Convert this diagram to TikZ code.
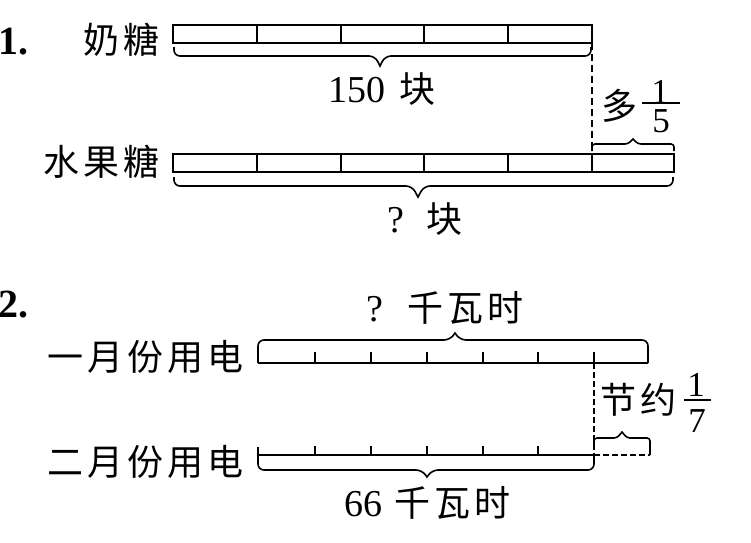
\documentclass[tikz,border=0pt]{standalone}
\usepackage{fontspec}
\setmainfont{Liberation Serif}
\newfontfamily\cjk{Noto Sans CJK SC}
\newcommand\zh{\cjk\fontsize{36}{42}\selectfont}
\newcommand\cs{\hspace{4pt}}
\begin{document}
\begin{tikzpicture}[x=1pt,y=-1pt,
  bar/.style={line width=1.8pt},
  thinbar/.style={line width=1.6pt},
  brc/.style={line width=1.6pt},
  dashline/.style={line width=1.5pt, dash pattern=on 7pt off 4pt},
  lbl/.style={inner sep=0pt, font=\zh},
  numb/.style={inner sep=0pt, font=\fontsize{38}{44}\selectfont},
  bnum/.style={inner sep=0pt, font=\fontsize{40}{46}\selectfont\bfseries},
  fracn/.style={inner sep=0pt, font=\fontsize{35}{40}\selectfont},
  fracbar/.style={line width=1.4pt}]
\useasboundingbox (0,0) rectangle (751,542);

% ---------- Diagram 1 ----------
\node[bnum, anchor=base east] (n1) at (29,54) {1.};
\node[lbl, anchor=east] (l1) at (160,40) {奶\cs 糖};
\node[lbl, anchor=east] (l2) at (160,162) {水\cs 果\cs 糖};

% top bar (5 parts)
\draw[bar] (173,25) rectangle (592,43);
\foreach \x in {257,341,424,508} \draw[bar] (\x,25) -- (\x,43);
% bottom bar (6 parts)
\draw[bar] (173,154) rectangle (674,172);
\foreach \x in {257,341,424,508,592} \draw[bar] (\x,154) -- (\x,172);

% dashed connector
\coordinate (d1a) at (592,43);
\coordinate (d1b) at (592,154);
\draw[dashline] (d1a) -- (d1b);

% braces
\draw[brc] (174,47) [rounded corners=6pt] -- (174,56) -- (375,56) [sharp corners] -- (380,66) [rounded corners=6pt] -- (385,56) -- (591,56) -- (591,47);
\draw[brc] (174,177) [rounded corners=6pt] -- (174,186) -- (412,186) [sharp corners] -- (418,197) [rounded corners=6pt] -- (424,186) -- (673,186) -- (673,177);
\draw[brc] (592,151) [rounded corners=3pt] -- (592,144) -- (628,144) [sharp corners] -- (633,139) [rounded corners=3pt] -- (638,144) -- (674,144) -- (674,151);

\node[numb, anchor=base] (t1) at (382,102) {150\hspace{14pt}{\zh 块}};
\node[numb, anchor=base] (t2) at (425,232) {?\hspace{22pt}{\zh 块}};
\node[lbl] (duo) at (619,106) {多};
\node[fracn] (f1n) at (660,92) {1};
\node[fracn] (f1d) at (661,121) {5};
\draw[fracbar] (642,103) -- (680,103);

% ---------- Diagram 2 ----------
\node[bnum, anchor=base east] (n2) at (29,317) {2.};
\node[lbl, anchor=east] (l3) at (244,357) {一\cs 月\cs 份\cs 用\cs 电};
\node[lbl, anchor=east] (l4) at (244,462) {二\cs 月\cs 份\cs 用\cs 电};

% top line with ticks
\draw[thinbar] (258,363) -- (648,363);
\foreach \x in {315,371,427,483,538,594} \draw[thinbar] (\x,363) -- (\x,352);
% top brace
\draw[brc] (258,363) [rounded corners=6pt] -- (258,340) -- (450,340) [sharp corners] -- (455,333) [rounded corners=6pt] -- (460,340) -- (648,340) -- (648,363);

% bottom line with ticks
\draw[thinbar] (258,455) -- (594,455);
\foreach \x in {315,371,427,483,538} \draw[thinbar] (\x,455) -- (\x,446);
% bottom brace
\draw[brc] (258,447) [rounded corners=6pt] -- (258,470) -- (422,470) [sharp corners] -- (427,477) [rounded corners=6pt] -- (432,470) -- (594,470) -- (594,455);

% dashed parts
\coordinate (d2a) at (594,363);
\coordinate (d2b) at (594,455);
\coordinate (d2c) at (650,455);
\draw[dashline, dash pattern=on 6pt off 3pt] (d2a) -- (d2b);
\draw[dashline, dash pattern=on 6pt off 3pt] (d2b) -- (d2c);
% small brace
\draw[brc] (594,446) [rounded corners=3pt] -- (594,438) -- (617,438) [sharp corners] -- (622,432) [rounded corners=3pt] -- (627,438) -- (650,438) -- (650,455);

\node[numb, anchor=base] (t3) at (445,321) {?\hspace{24pt}{\zh 千\cs 瓦\cs 时}};
\node[numb, anchor=base] (t4) at (427.5,516) {66\hspace{12pt}{\zh 千\cs 瓦\cs 时}};
\node[lbl] (jy) at (638.5,400) {节\cs 约};
\node[fracn] (f2n) at (696,385) {1};
\node[fracn] (f2d) at (697,421) {7};
\draw[fracbar] (684,400) -- (711,400);
\end{tikzpicture}
\end{document}
